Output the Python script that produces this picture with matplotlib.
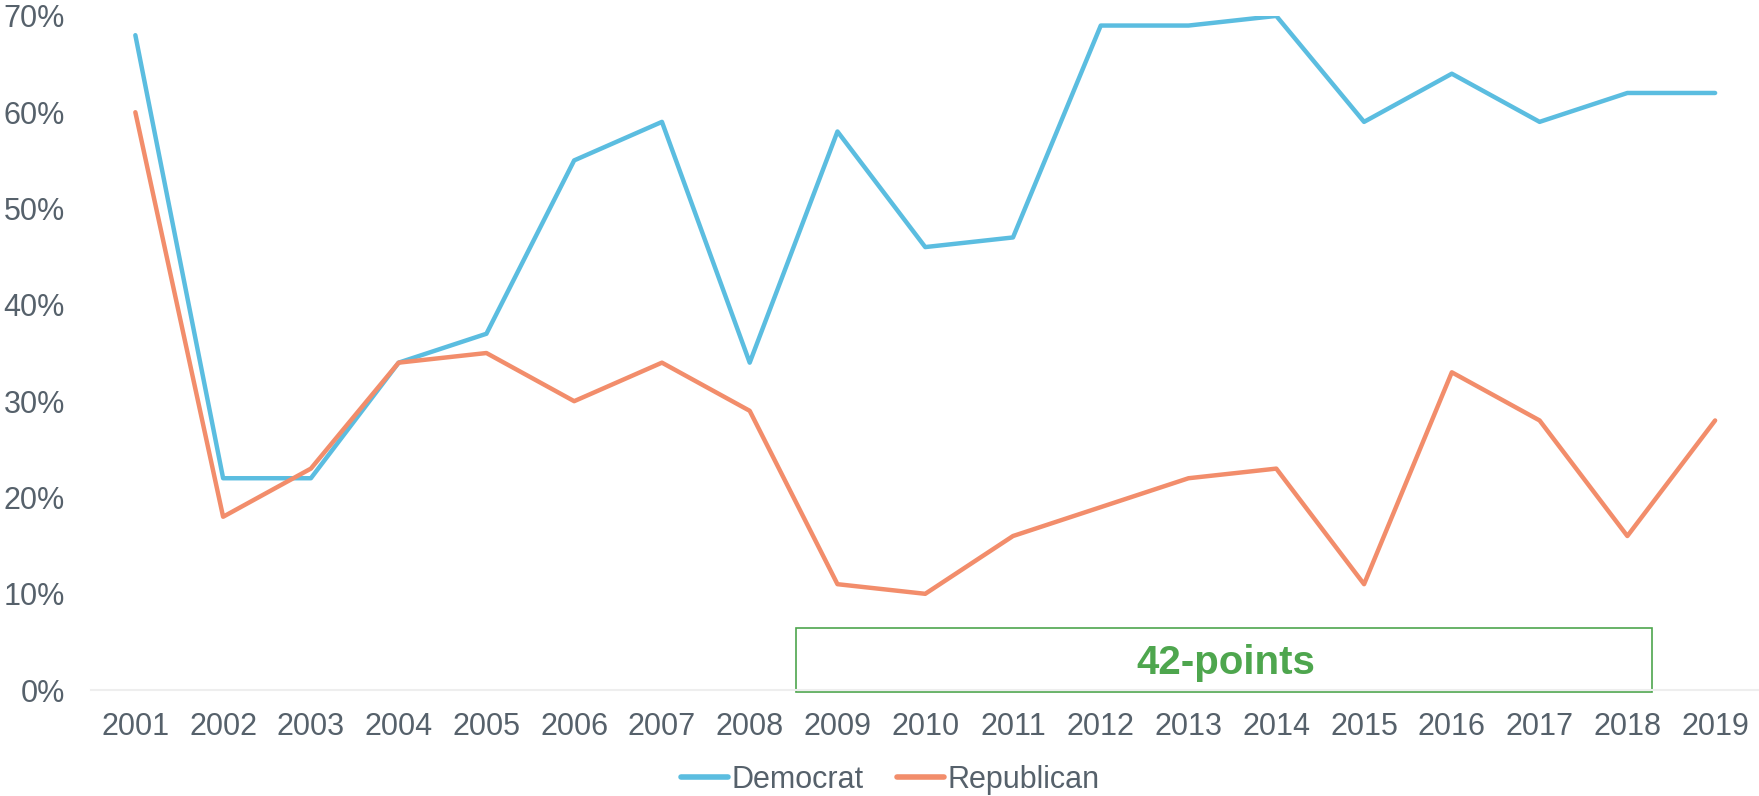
import matplotlib.pyplot as plt
from matplotlib.patches import Rectangle
from matplotlib.ticker import FuncFormatter

# Data
years = [str(y) for y in range(2001, 2020)]
democrat = [68, 22, 22, 34, 37, 55, 59, 34, 58, 46, 47, 69, 69, 70, 59, 64, 59, 62, 62]
republican = [60, 18, 23, 34, 35, 30, 34, 29, 11, 10, 16, 19, 22, 23, 11, 33, 28, 16, 28]
gap_label = '42-points'

plt.rcParams['font.family'] = ['Liberation Sans', 'DejaVu Sans']
text_color = '#56616b'

fig = plt.figure(figsize=(17.59, 7.96), dpi=100)
ax = fig.add_axes([0.052, 0.133, 0.948, 0.847])

x = list(range(len(years)))
ax.plot(x, democrat, color='#5bbde0', lw=3.2, label='Democrat', solid_capstyle='round')
ax.plot(x, republican, color='#f28d6b', lw=3.2, label='Republican', solid_capstyle='round')

ax.set_xlim(-0.5, len(years) - 0.5)
ax.set_ylim(0, 70)
ax.set_yticks(range(0, 71, 10))
ax.yaxis.set_major_formatter(FuncFormatter(lambda v, p: f'{v:.0f}%'))
ax.set_xticks(x)
ax.set_xticklabels(years)
ax.tick_params(axis='both', length=0, labelsize=22, labelcolor=text_color)
ax.tick_params(axis='x', pad=16)
ax.tick_params(axis='y', pad=19)

for s in ['top', 'right', 'left']:
    ax.spines[s].set_visible(False)
ax.spines['bottom'].set_color('#eeeeee')
ax.spines['bottom'].set_linewidth(1.5)

# annotation box
box = Rectangle((7.53, -0.2), 9.75, 6.6, fill=False, edgecolor='#4ea64e', lw=1.2, clip_on=False)
ax.add_patch(box)
ax.text(12.42, 2.8, gap_label, ha='center', va='center', fontsize=29,
        fontweight='bold', color='#4ea64e')

leg = fig.legend(loc='center', bbox_to_anchor=(0.506, 0.02), ncol=2, frameon=False,
                 fontsize=22, handlelength=1.55, handletextpad=0.1, columnspacing=1.1,
                 labelcolor=text_color)
for h in leg.get_lines():
    h.set_linewidth(4)

fig.savefig('out.png', dpi=100)
